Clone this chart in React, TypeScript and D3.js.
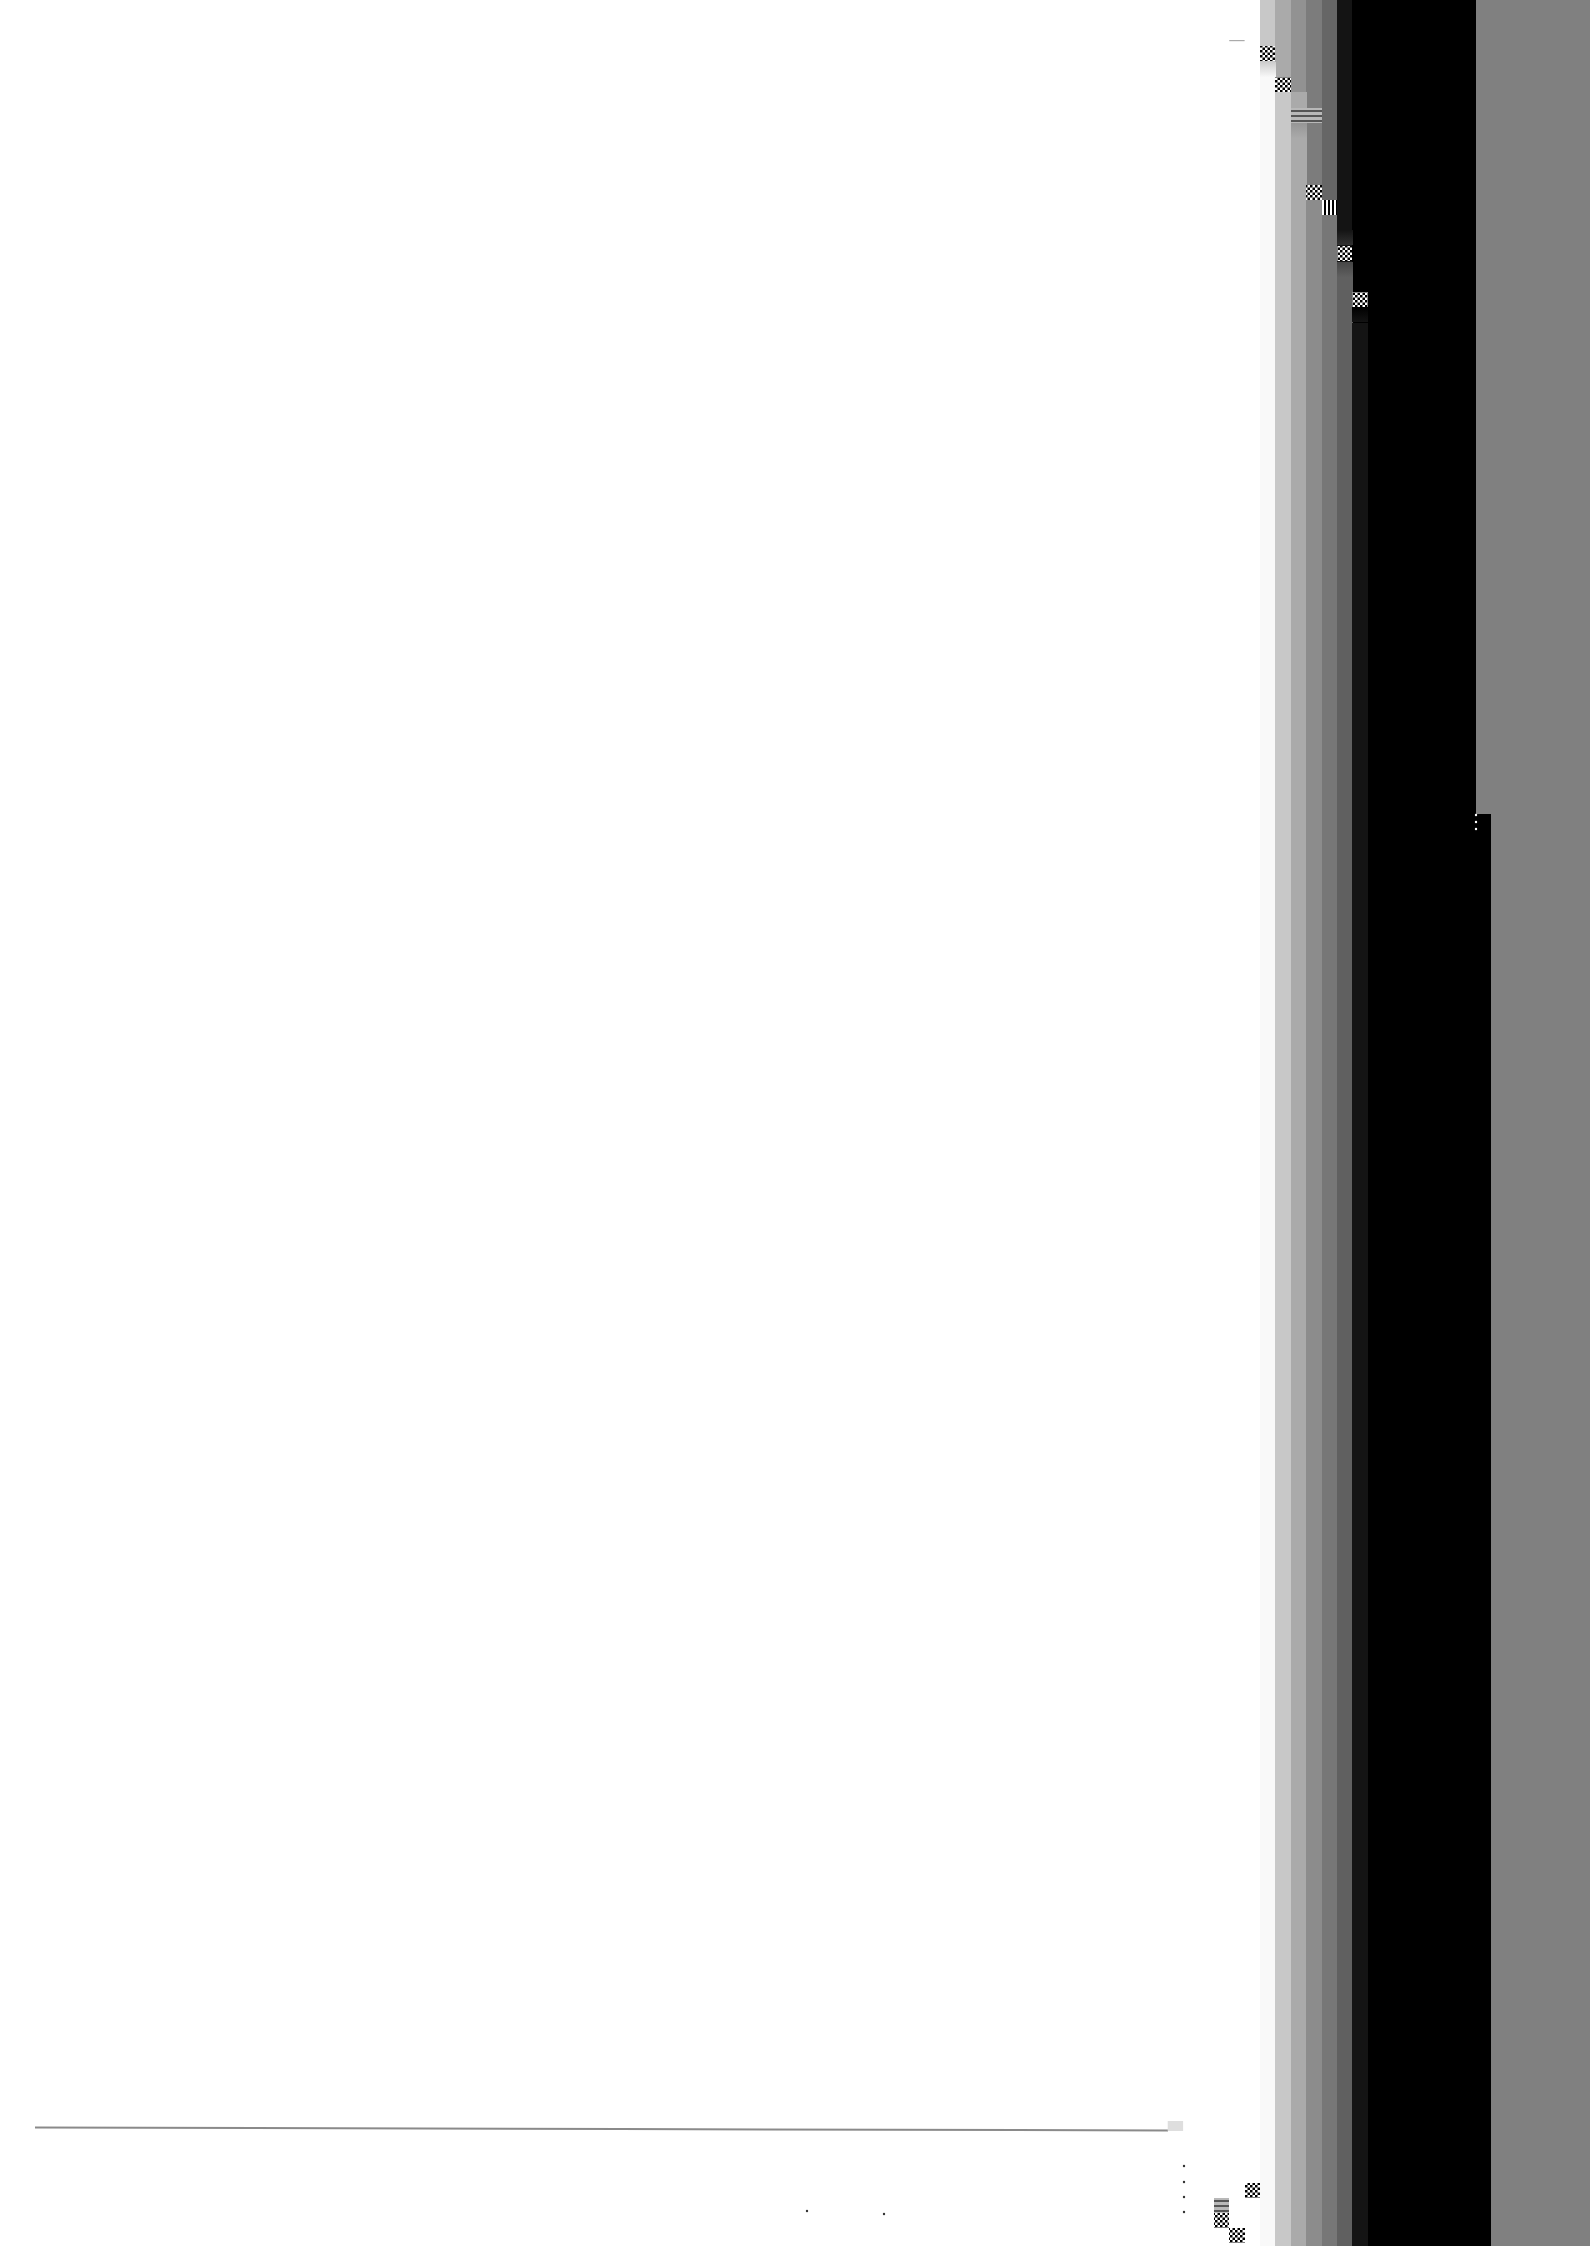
import React, { useEffect, useRef } from 'react';
import * as d3 from 'd3';

const WIDTH = 1590;
const HEIGHT = 2246;

// grey level (0-255) of each band above and below its break row
const upperTone = [200, 170, 146, 124, 102, 20, 0, 0, 0, 0, 0, 0, 0, 0, 128];
const lowerTone = [249, 200, 170, 140, 119, 96, 20, 0, 0, 0, 0, 0, 0, 0, 0];
const breakRow = [77, 92, 92, 200, 215, 277, 323, 0, 0, 0, 0, 0, 0, 0, 814];
const rightTone = 128;

// broken cells on the band grid: column index, row, kind
const glitchCol = [0, 1, 2, 3, 3, 4, 5, 6, -1, -3, -3, -2];
const glitchRow = [46, 77, 108, 108, 185, 200, 246, 292, 2183, 2198, 2213, 2228];
const glitchKind = ['checker', 'checker', 'hstripes', 'hstripes', 'checker', 'vstripes', 'checker', 'checker', 'checker', 'hstripes', 'checker', 'checker'];

// soft fades between tones inside a band
const fadeCol = [0, 2, 5, 5, 6];
const fadeRow = [62, 123, 230, 262, 307];
const fadeFrom = [205, 150, 20, 70, 0];
const fadeTo = [249, 170, 50, 96, 20];

// the baseline rule near the bottom
const baseline: [number, number][] = [[35, 2127.5], [620, 2129], [1168, 2130.5]];
const specks: [number, number][] = [[807, 2211], [884, 2214], [1184, 2166], [1184, 2182], [1184, 2197], [1184, 2212], [1476, 815], [1476, 822], [1476, 829]];

const grey = (t: number) => d3.rgb(t, t, t).formatHex();

export default function App() {
    const svgRef = useRef<SVGSVGElement>(null);

    useEffect(() => {
        if (!svgRef.current) return;
        const svg = d3.select(svgRef.current);
        svg.selectAll('*').remove();

        const cols = upperTone.length;
        const x = d3.scaleLinear().domain([0, cols]).range([1260, 1490.7]);
        const y = d3.scaleLinear().domain([0, HEIGHT]).range([0, HEIGHT]);
        const bw = x(1) - x(0);

        const defs = svg.append('defs');
        const checker = defs.append('pattern').attr('id', 'checker')
            .attr('patternUnits', 'userSpaceOnUse').attr('width', 5).attr('height', 5);
        checker.append('rect').attr('width', 5).attr('height', 5).attr('fill', '#fff');
        checker.append('rect').attr('width', 2.5).attr('height', 2.5).attr('fill', '#000');
        checker.append('rect').attr('x', 2.5).attr('y', 2.5).attr('width', 2.5).attr('height', 2.5).attr('fill', '#000');
        const vs = defs.append('pattern').attr('id', 'vstripes')
            .attr('patternUnits', 'userSpaceOnUse').attr('width', 4).attr('height', 4);
        vs.append('rect').attr('width', 4).attr('height', 4).attr('fill', '#fff');
        vs.append('rect').attr('width', 2).attr('height', 4).attr('fill', '#000');
        const hs = defs.append('pattern').attr('id', 'hstripes')
            .attr('patternUnits', 'userSpaceOnUse').attr('width', 4).attr('height', 5);
        hs.append('rect').attr('width', 4).attr('height', 5).attr('fill', '#b8b8b8');
        hs.append('rect').attr('width', 4).attr('height', 2).attr('fill', '#555');

        fadeCol.forEach((c, i) => {
            const g = defs.append('linearGradient').attr('id', `fade${i}`)
                .attr('x1', 0).attr('y1', 0).attr('x2', 0).attr('y2', 1);
            g.append('stop').attr('offset', 0).attr('stop-color', grey(fadeFrom[i]));
            g.append('stop').attr('offset', 1).attr('stop-color', grey(fadeTo[i]));
        });

        svg.append('rect').attr('width', WIDTH).attr('height', HEIGHT).attr('fill', '#fff');

        // right hand grey panel
        svg.append('rect')
            .attr('x', x(cols)).attr('y', 0)
            .attr('width', WIDTH - x(cols)).attr('height', HEIGHT)
            .attr('fill', grey(rightTone));

        const bands = svg.append('g').attr('shape-rendering', 'crispEdges');
        const idx = d3.range(cols);
        bands.selectAll('rect.upper').data(idx).enter().append('rect')
            .attr('class', 'upper')
            .attr('x', i => x(i)).attr('y', y(0))
            .attr('width', bw + 0.5).attr('height', i => y(breakRow[i]))
            .attr('fill', i => grey(upperTone[i]));
        bands.selectAll('rect.lower').data(idx).enter().append('rect')
            .attr('class', 'lower')
            .attr('x', i => x(i)).attr('y', i => y(breakRow[i]))
            .attr('width', bw + 0.5).attr('height', i => y(HEIGHT) - y(breakRow[i]))
            .attr('fill', i => grey(lowerTone[i]));

        bands.selectAll('rect.fade').data(fadeCol).enter().append('rect')
            .attr('class', 'fade')
            .attr('x', c => x(c)).attr('y', (c, i) => y(fadeRow[i]))
            .attr('width', bw + 0.5).attr('height', bw)
            .attr('fill', (c, i) => `url(#fade${i})`);

        bands.selectAll('rect.glitch').data(glitchCol).enter().append('rect')
            .attr('class', 'glitch')
            .attr('x', c => x(c)).attr('y', (c, i) => y(glitchRow[i]))
            .attr('width', bw).attr('height', bw)
            .attr('fill', (c, i) => `url(#${glitchKind[i]})`);

        // baseline
        svg.append('path')
            .datum(baseline)
            .attr('d', d3.line<[number, number]>().x(d => d[0]).y(d => y(d[1]))!)
            .attr('fill', 'none')
            .attr('stroke', '#8a8a8a')
            .attr('stroke-width', 2);
        svg.append('rect')
            .attr('x', x(-6)).attr('y', y(2121))
            .attr('width', bw).attr('height', 10)
            .attr('fill', grey(222));
        svg.append('rect')
            .attr('x', x(-2)).attr('y', y(40))
            .attr('width', bw).attr('height', 1.2)
            .attr('fill', grey(170));

        svg.append('g').selectAll('circle').data(specks).enter().append('circle')
            .attr('cx', d => d[0]).attr('cy', d => y(d[1]))
            .attr('r', 1.2)
            .attr('fill', d => (d[0] > 1400 ? '#fff' : '#333'));
    }, []);

    return (
        <div style={{ position: 'absolute', left: 0, top: 0, width: WIDTH, height: HEIGHT, background: '#fff' }}>
            <svg ref={svgRef} width={WIDTH} height={HEIGHT} style={{ display: 'block' }}></svg>
        </div>
    );
}
